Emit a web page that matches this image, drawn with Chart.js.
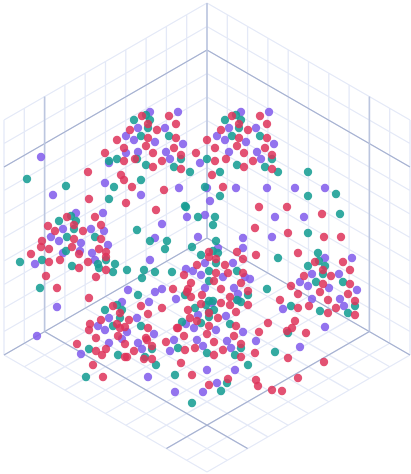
<!DOCTYPE html>
<html>
<head>
<meta charset="utf-8">
<style>
html, body { margin: 0; padding: 0; background: #fff; }
canvas { display: block; }
</style>
<script src="https://cdn.jsdelivr.net/npm/chart.js@4"></script>
</head>
<body>
<canvas id="chart" width="411" height="474"></canvas>
<script>
// values
const redX = [142,169,148,176,130,157,117,148,176,207,124,146,174,105,153,196,124,135,162,181,153,181,121,124,132,164,126,156,88,89,
  232,260,239,267,221,248,239,267,215,237,265,244,215,226,253,272,244,272,212,223,259,287,322,255,288,324,341,
  67,95,74,101,48,55,83,74,101,42,41,49,72,99,31,79,106,106,49,60,88,79,106,46,96,57,89,
  113,141,120,148,162,173,101,129,117,90,89,120,125,148,177,118,146,147,96,77,125,152,166,106,96,102,134,125,127,144,152,93,103,181,
  209,237,209,216,243,256,197,225,184,216,228,243,214,191,241,188,221,187,248,191,202,230,201,221,230,248,188,236,190,209,218,197,209,236,178,207,259,184,234,214,241,195,185,223,214,241,255,192,228,209,256,258,272,
  282,298,288,324,298,315,343,350,323,304,331,291,323,350,320,348,298,280,328,355,309,298,336,328,355,268,295,292,287,306];
const redY = [116,116,124,124,130,130,140,138,138,140,148,146,148,153,153,153,161,159,161,155,167,169,175,180,187,190,203,210,172,199,
  116,116,124,124,130,130,138,138,148,146,148,153,161,159,161,155,167,169,175,187,207,207,214,228,233,237,237,
  217,217,225,225,226,231,231,239,239,241,247,249,247,249,254,254,252,257,262,260,262,268,270,276,277,288,298,
  306,306,313,314,308,289,320,320,324,324,330,328,327,328,328,336,338,340,338,344,344,346,342,349,351,355,351,357,357,359,359,365,377,363,
  252,252,257,259,259,255,265,265,275,273,273,273,281,283,283,289,289,292,291,297,295,297,304,303,305,305,310,312,318,313,318,321,326,326,328,334,332,336,336,342,344,348,350,350,355,357,353,375,379,385,380,386,390,
  391,378,358,362,253,262,262,270,270,276,276,286,284,284,292,294,294,300,300,301,306,308,308,313,315,323,321,328,331,333];

const purpleX = [150,178,138,165,126,134,155,183,126,138,166,170,109,200,105,141,179,207,210,
  241,269,229,256,217,225,246,274,229,257,261,236,267,295,325,275,304,243,272,205,
  41,53,187,162,198,155,
  76,103,63,91,51,59,81,104,108,80,63,92,95,35,128,57,122,37,
  149,155,162,176,109,137,98,105,127,154,122,109,138,142,174,170,81,148,175,150,
  243,218,205,233,186,193,201,223,245,250,205,234,238,238,212,198,226,186,194,216,243,197,256,203,227,231,207,235,217,203,
  325,352,312,339,300,308,329,357,312,340,344,283,325,300];
const purpleY = [112,112,128,128,136,140,142,144,153,152,152,159,163,163,183,195,188,188,201,
  112,112,128,128,136,140,142,144,152,152,159,188,188,188,188,217,217,238,237,215,
  157,195,217,224,237,238,
  213,213,229,229,237,241,243,231,245,251,253,253,260,264,290,307,302,336,
  302,292,289,299,318,318,326,330,332,334,339,343,343,349,340,351,354,377,392,260,
  248,248,263,263,269,271,275,277,277,279,288,288,294,300,303,315,316,324,328,330,332,340,341,346,341,348,370,370,383,392,
  258,258,274,274,282,286,288,290,299,299,306,309,327,347];

const tealX = [134,146,150,148,141,169,109,117,137,181,146,174,190,141,114,109,205,207,185,
  225,236,241,239,232,260,272,237,265,278,220,220,308,308,336,340,215,213,308,
  27,66,186,198,137,
  59,71,76,74,67,95,66,20,42,106,98,99,72,115,113,127,40,
  150,144,142,155,172,
  105,117,122,120,113,141,89,152,118,145,156,86,175,138,
  167,165,192,216,213,218,201,216,209,237,209,185,248,237,241,213,209,206,214,209,195,209,182,201,230,267,
  178,207,241,235,248,227,221,192,275,
  278,318,308,319,325,323,316,343,291,355,320,348,288];
const tealY = [120,115,120,128,136,136,161,159,159,159,165,167,172,180,187,199,187,159,206,
  120,115,120,128,136,136,159,165,167,172,172,196,172,196,194,214,217,225,233,
  179,186,207,217,230,
  221,216,221,229,237,237,251,262,260,260,264,268,266,264,272,270,288,
  241,270,278,272,272,
  310,305,310,318,326,326,349,349,355,357,365,377,375,295,
  241,249,247,241,251,253,255,263,271,271,281,295,295,300,302,301,301,305,310,312,308,317,322,323,324,289,
  348,353,348,355,365,383,391,403,352,
  258,253,266,261,266,274,282,282,306,306,311,313,333];

const gridTicks = [0,1,2,3,4,5,6,7,8,9,10];
const axisTick = 2;
const wallTick = 8;
const lastTick = 10;

// isometric box, grid units -> plot coordinates
function project(u, v, w) {
    return {
        x: 207 + (u - v) * 20.3,
        y: 472 - (u + v) * 11.7 - w * 23.5
    };
}

function segments(list) {
    const out = [];
    list.forEach(([a, b]) => {
        out.push(project(...a), project(...b), { x: NaN, y: NaN });
    });
    return out;
}

const lightLines = [];
gridTicks.forEach(t => {
    // floor
    lightLines.push([[t, 0, 0], [t, lastTick, 0]], [[0, t, 0], [lastTick, t, 0]]);
    // left wall
    lightLines.push([[t, lastTick, 0], [t, lastTick, lastTick]], [[0, lastTick, t], [lastTick, lastTick, t]]);
    // right wall
    lightLines.push([[lastTick, t, 0], [lastTick, t, lastTick]], [[lastTick, 0, t], [lastTick, lastTick, t]]);
});

const axisLines = [
    [[0, lastTick, 0], [lastTick, lastTick, 0]],
    [[lastTick, 0, 0], [lastTick, lastTick, 0]],
    [[axisTick, 0, 0], [axisTick, lastTick, 0]],
    [[0, axisTick, 0], [lastTick, axisTick, 0]],
    [[0, lastTick, wallTick], [lastTick, lastTick, wallTick]],
    [[lastTick, 0, wallTick], [lastTick, lastTick, wallTick]]
];
const axisPosts = [
    [[axisTick, lastTick, 0], [axisTick, lastTick, lastTick]],
    [[lastTick, axisTick, 0], [lastTick, axisTick, lastTick]],
    [[lastTick, lastTick, 0], [lastTick, lastTick, lastTick]]
];

function points(xs, ys) {
    return xs.map((x, i) => ({ x, y: ys[i] }));
}

function markers(label, xs, ys, color, order) {
    return {
        label,
        data: points(xs, ys),
        backgroundColor: color,
        borderWidth: 0,
        pointRadius: 4.2,
        order
    };
}

function lines(label, list, color, width, order) {
    return {
        label,
        data: segments(list),
        showLine: true,
        spanGaps: false,
        borderColor: color,
        borderWidth: width,
        pointRadius: 0,
        order
    };
}

new Chart(document.getElementById("chart"), {
    type: "scatter",
    data: {
        datasets: [
            lines("grid", lightLines, "#e4e9f7", 1.3, 12),
            lines("axis", axisLines, "#a6b1d0", 1.2, 11),
            lines("posts", axisPosts, "#bcc6df", 1.6, 10),
            markers("purple", purpleX, purpleY, "rgba(132,96,236,0.88)", 3),
            markers("teal", tealX, tealY, "rgba(24,158,148,0.88)", 2),
            markers("red", redX, redY, "rgba(222,52,90,0.85)", 1)
        ]
    },
    options: {
        responsive: false,
        animation: false,
        layout: { padding: 0, autoPadding: false },
        plugins: { legend: { display: false }, tooltip: { enabled: false } },
        scales: {
            x: { type: "linear", min: 0, max: 411, display: false },
            y: { type: "linear", min: 0, max: 474, reverse: true, display: false }
        }
    }
});
</script>
</body>
</html>
